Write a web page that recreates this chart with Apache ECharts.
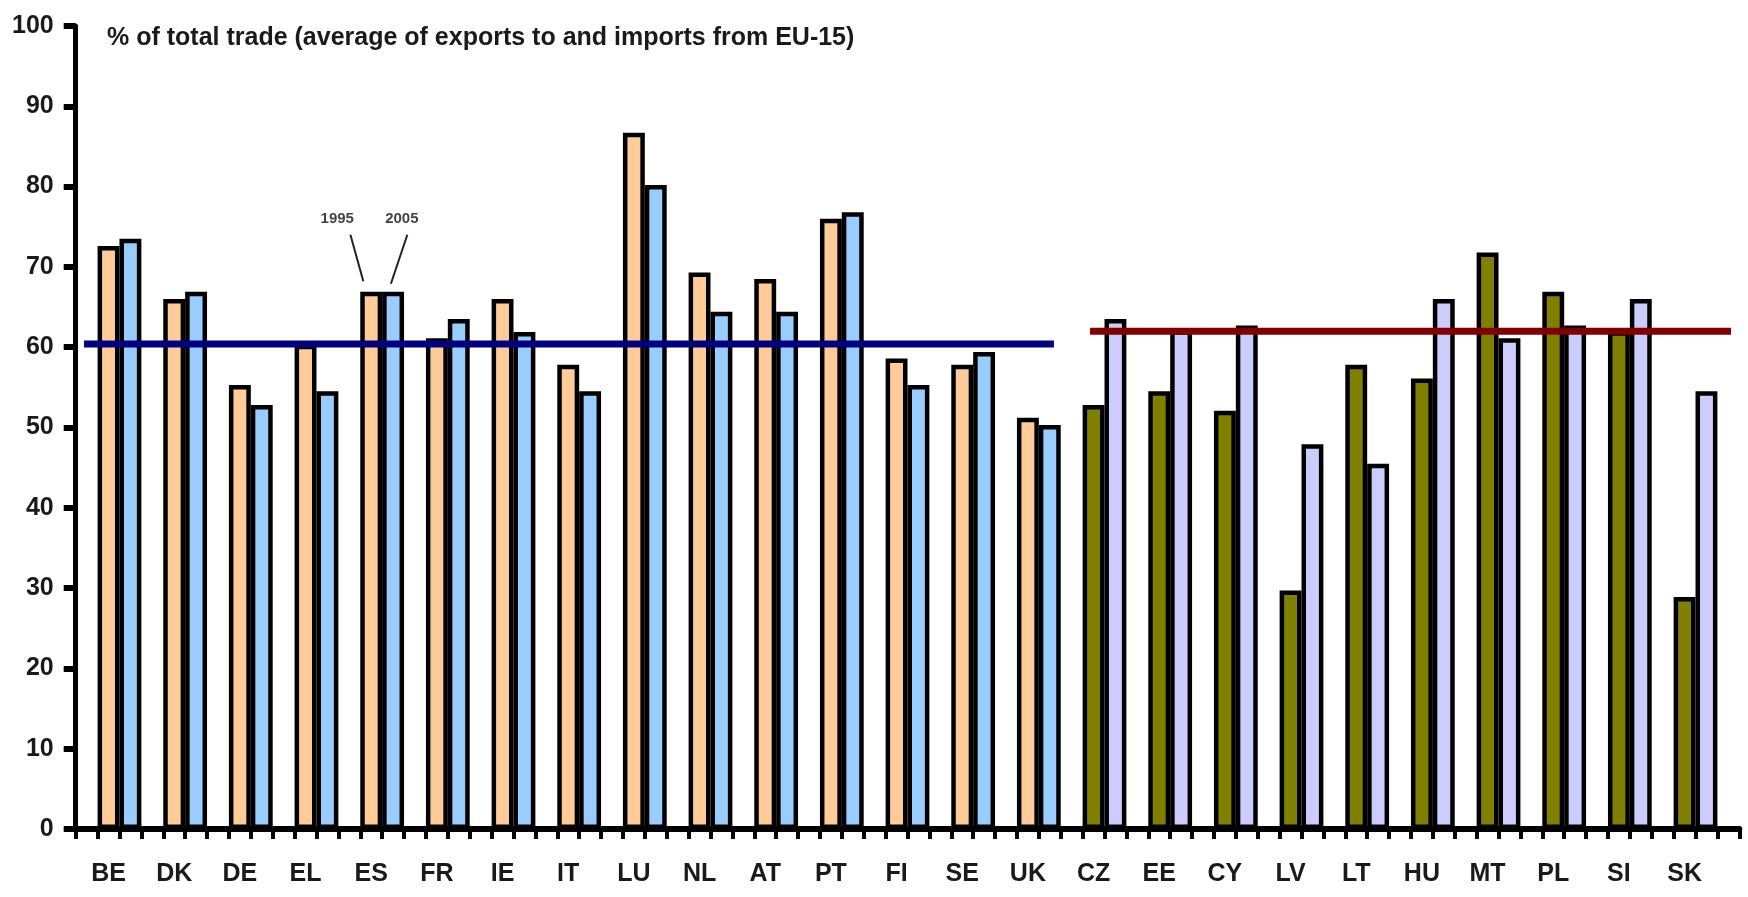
<!DOCTYPE html>
<html>
<head>
<meta charset="utf-8">
<script src="https://cdn.jsdelivr.net/npm/echarts@6/dist/echarts.min.js"></script>
<style>
  html, body { margin: 0; padding: 0; background: #fff; }
  #chart { width: 1748px; height: 897px; }
</style>
</head>
<body>
<div id="chart"></div>
<script>
// Share of intra-EU trade: EU-15 members vs. new member states, two years each
const countries = ['BE','DK','DE','EL','ES','FR','IE','IT','LU','NL','AT','PT','FI','SE','UK',
                   'CZ','EE','CY','LV','LT','HU','MT','PL','SI','SK'];
const years = ['1995', '2005'];

// EU-15 members (first 15 countries)
const eu15First  = [72.6, 66.0, 55.3, 60.3, 66.9, 61.1, 66.0, 57.8, 86.7, 69.3, 68.5, 76.0, 58.6, 57.8, 51.2];
const eu15Second = [73.5, 66.9, 52.8, 54.5, 66.9, 63.5, 61.9, 54.5, 80.2, 64.4, 64.4, 76.8, 55.3, 59.4, 50.3];
// New member states (last 10 countries)
const nmsFirst   = [52.8, 54.5, 52.1, 29.7, 57.8, 56.1, 71.8, 66.9, 62.0, 28.9];
const nmsSecond  = [63.5, 62.1, 62.7, 47.9, 45.5, 66.0, 61.1, 62.7, 66.0, 54.5];

// Group averages and the stretch of the axis (in slot units) each line covers
const eu15Average = 60.4;
const nmsAverage  = 62.0;
const eu15AverageSpan = [0.38, 44.69];
const nmsAverageSpan  = [46.34, 75.62];

const yTicks = { min: 0, max: 100, step: 10 };
const titleText = '% of total trade (average of exports to and imports from EU-15)';

// Leader labels pointing at the ES pair (slot units, value units)
const yearLabelPoints = [[11.95, 76.0], [14.9, 76.0]];
const yearLeaders = [
  [[12.55, 74.0], [13.14, 68.2]],
  [[15.15, 74.0], [14.40, 67.9]]
];

const FONT = "'Liberation Sans', Arial, sans-serif";
const TEXT_COLOR = '#1a1a1a';

// Each country occupies three slots: an empty one, then the two years.
const slotCount = countries.length * 3 + 1;
const slotNames = [];
for (let i = 0; i < slotCount; i++) slotNames.push('s' + i);

function toSlots(values, offset, yearIdx) {
  const out = new Array(slotCount).fill('-');
  values.forEach((v, k) => { out[(k + offset) * 3 + 1 + yearIdx] = v; });
  return out;
}

function barSeries(name, data, color) {
  return {
    name, type: 'bar', xAxisIndex: 0, yAxisIndex: 0,
    data, barWidth: '100%', barGap: '-100%',
    itemStyle: { color, borderColor: '#000', borderWidth: 4.5 },
    z: 2
  };
}

function avgLine(value, span, color) {
  return {
    type: 'line', xAxisIndex: 1, yAxisIndex: 0,
    data: [[span[0], value], [span[1], value]],
    symbol: 'none', silent: true,
    lineStyle: { color, width: 7, cap: 'butt' },
    z: 4
  };
}

const chart = echarts.init(document.getElementById('chart'), null, { renderer: 'canvas' });

const option = {
  animation: false,
  backgroundColor: '#fff',
  title: {
    text: titleText, left: 102, top: 21,
    textStyle: { fontFamily: FONT, fontSize: 25, fontWeight: 'bold', color: TEXT_COLOR }
  },
  grid: { left: 75.7, right: 8.7, top: 26, bottom: 68, containLabel: false },
  xAxis: [
    {
      type: 'category', data: slotNames, boundaryGap: true,
      axisLine: { show: true, lineStyle: { color: '#000', width: 6 } },
      axisTick: { show: true, interval: 0, length: 10, lineStyle: { color: '#000', width: 4 } },
      axisLabel: {
        interval: 0, margin: 33, fontFamily: FONT, fontSize: 25, fontWeight: 'bold', color: TEXT_COLOR,
        formatter: (v, i) => (i % 3 === 1 && i < slotCount - 1) ? countries[(i - 1) / 3] : ''
      },
      splitLine: { show: false }
    },
    { type: 'value', min: 0, max: slotCount, show: false }
  ],
  yAxis: {
    type: 'value', min: yTicks.min, max: yTicks.max, interval: yTicks.step,
    axisLine: { show: true, lineStyle: { color: '#000', width: 5 } },
    axisTick: { show: true, length: 12, lineStyle: { color: '#000', width: 6 } },
    axisLabel: { margin: 22, fontFamily: FONT, fontSize: 25, fontWeight: 'bold', color: TEXT_COLOR },
    splitLine: { show: false }
  },
  series: [
    barSeries('EU-15 ' + years[0], toSlots(eu15First, 0, 0), '#FFCC99'),
    barSeries('EU-15 ' + years[1], toSlots(eu15Second, 0, 1), '#99CCFF'),
    barSeries('NMS ' + years[0], toSlots(nmsFirst, 15, 0), '#808000'),
    barSeries('NMS ' + years[1], toSlots(nmsSecond, 15, 1), '#CCCCFF'),
    avgLine(eu15Average, eu15AverageSpan, '#000080'),
    avgLine(nmsAverage, nmsAverageSpan, '#800000'),
    ...yearLeaders.map(seg => ({
      type: 'line', xAxisIndex: 1, yAxisIndex: 0, data: seg,
      symbol: 'none', silent: true,
      lineStyle: { color: '#222', width: 2 }, z: 5
    })),
    {
      type: 'scatter', xAxisIndex: 1, yAxisIndex: 0, silent: true,
      symbolSize: 1, itemStyle: { color: 'rgba(0,0,0,0)' },
      data: yearLabelPoints.map((p, k) => ({ value: p, name: years[k] })),
      label: {
        show: true, position: 'inside', formatter: '{b}',
        fontFamily: FONT, fontSize: 15, fontWeight: 'bold', color: '#111'
      },
      z: 6
    }
  ]
};

chart.setOption(option);
</script>
</body>
</html>
